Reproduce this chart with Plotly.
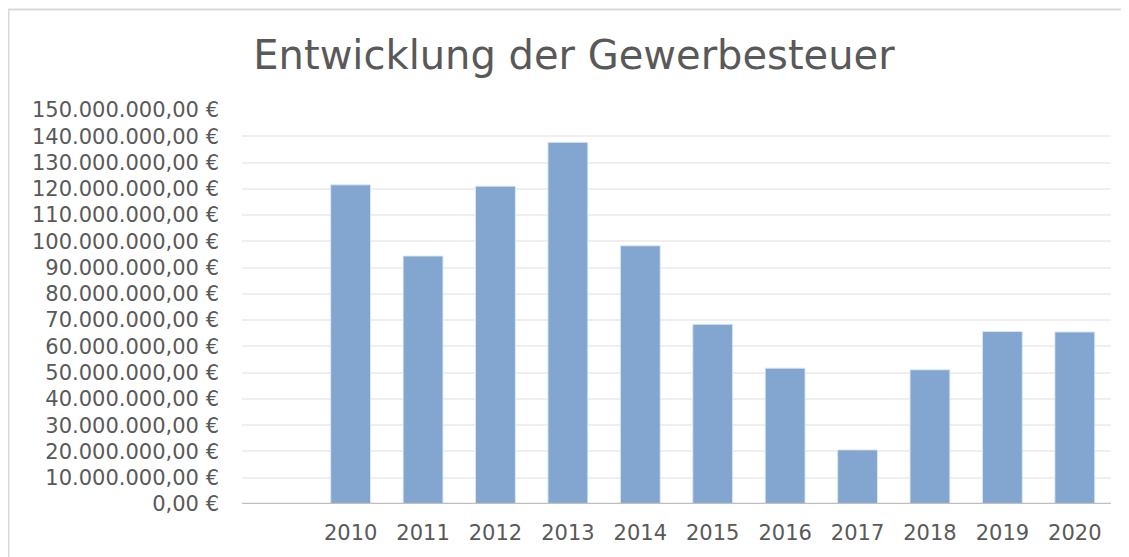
import plotly.graph_objects as go

categories = ["", "2010", "2011", "2012", "2013", "2014", "2015", "2016", "2017", "2018", "2019", "2020"]
values = [None, 121.5e6, 94.4e6, 121.0e6, 137.7e6, 98.3e6, 68.4e6, 51.7e6, 20.6e6, 51.1e6, 65.7e6, 65.5e6]
tick_values = [i * 10_000_000 for i in range(16)]
tick_labels = ["0,00 €", "10.000.000,00 €", "20.000.000,00 €", "30.000.000,00 €", "40.000.000,00 €",
               "50.000.000,00 €", "60.000.000,00 €", "70.000.000,00 €", "80.000.000,00 €",
               "90.000.000,00 €", "100.000.000,00 €", "110.000.000,00 €", "120.000.000,00 €",
               "130.000.000,00 €", "140.000.000,00 €", "150.000.000,00 €"]
title_text = "Entwicklung der Gewerbesteuer"

FONT = "DejaVu Sans, sans-serif"
TXT = "#595959"

# page body has an 8px margin: work in page coords and subtract offset
OFF = 8
W, H = 1129 - OFF, 557 - OFF
L, R, T, B = 242 - OFF, 1111 - OFF, 110 - OFF, 504 - OFF

fig = go.Figure()
fig.add_trace(go.Bar(
    x=list(range(len(categories))), y=values,
    marker=dict(color="#82a6cf", line=dict(color="rgba(220,232,245,0.9)", width=1)),
    width=0.55,
))

fig.update_layout(
    width=W, height=H,
    margin=dict(l=L, r=W - R, t=T, b=H - B),
    paper_bgcolor="white", plot_bgcolor="white",
    showlegend=False,
    title=dict(text=title_text, x=(574 - OFF) / W, xanchor="center", y=1 - (55 - OFF) / H, yanchor="middle",
               yref="container", font=dict(family=FONT, size=40, color=TXT)),
    xaxis=dict(
        tickmode="array", tickvals=list(range(len(categories))), ticktext=categories,
        range=[-0.5, len(categories) - 0.5],
        showgrid=False, showline=False, zeroline=False, ticks="",
        tickfont=dict(family=FONT, size=21, color=TXT), ticklabelstandoff=14,
    ),
    yaxis=dict(
        range=[0, 150e6], tickmode="array", tickvals=tick_values, ticktext=tick_labels,
        showgrid=True, gridcolor="#efefef", gridwidth=2,
        zeroline=False, showline=False, ticks="",
        tickfont=dict(family=FONT, size=21, color=TXT), ticklabelstandoff=22,
    ),
)
# axis baseline
fig.add_shape(type="line", xref="paper", yref="y", x0=0, x1=1, y0=0, y1=0,
              line=dict(color="#bfbfbf", width=2.5))
# chart frame
fig.add_shape(type="rect", xref="paper", yref="paper",
              x0=(0.5 - L) / (R - L), x1=1.2, y0=-0.3, y1=(B - 1.5) / (B - T),
              line=dict(color="#d9d9d9", width=2), layer="below")
fig.write_html("out.html")
